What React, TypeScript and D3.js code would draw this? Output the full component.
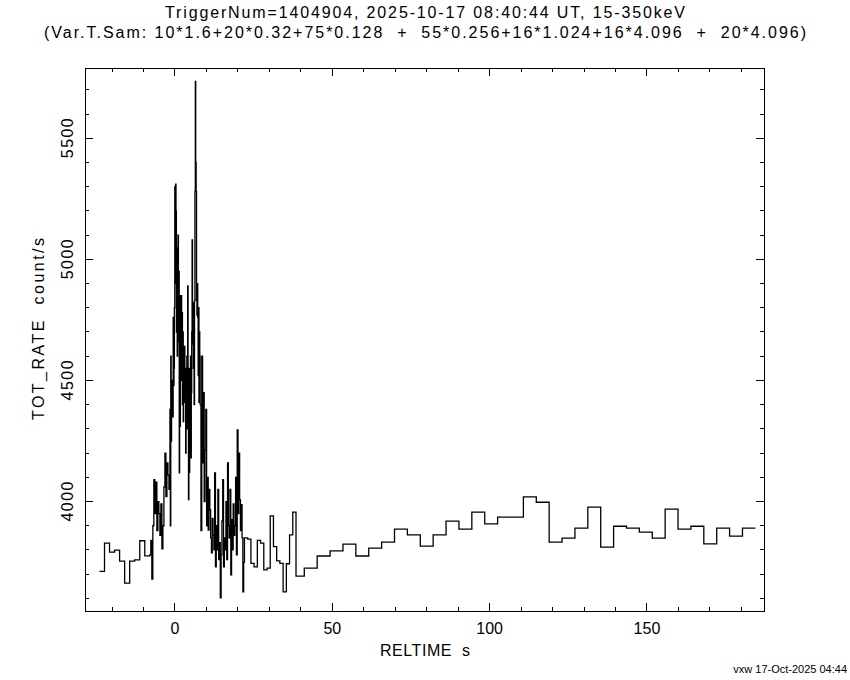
import React from "react";
import * as d3 from "d3";

// ---- time sampling (from the subtitle) ----
const T_START = -24;
const FINE_WIDTHS = [1.6, 0.32, 0.128, 0.256, 1.024];
const COARSE_START = 37.0;
const COARSE_DT = 4.096;

// ---- rates (count/s), one array per sampling section ----
const rate1p6 = [3712, 3828, 3791, 3799, 3754, 3663, 3754, 3759, 3838, 3776];

const rate0p32 = [
  3780, 3840, 3680, 3900, 4090, 3950, 4080, 3880, 4000, 3950,
  3860, 3990, 3805, 3900, 4060, 4200, 4020, 4160, 4110, 4050,
];

const rate0p128 = [
  4380, 3900, 4600, 4250, 4450,
  4420, 4500, 4350, 4760, 4480,
  4550, 4800, 5300, 4900, 5310,
  5200, 4700, 5050, 4600, 4900,
  5100, 4660, 4950, 4118, 4850,
  4310, 4700, 4500, 4850, 4600,
  4780, 4400, 4700, 4330, 4600,
  4500, 4640, 4410, 4550, 4200,
  4450, 4300, 4600, 4420, 4890,
  4300, 4008, 4550, 4120, 4400,
  4250, 4600, 4180, 4450, 4700,
  5080, 4650, 4820, 4550, 4700,
  4400, 4830, 5280, 5735, 5400,
  5280, 4830, 4770, 4900, 4760,
  4520, 4800, 4410, 4700, 4600,
];

const rate0p256 = [
  4400, 3880, 4600, 4160, 4450, 4000,
  4213, 4380, 3900, 4100, 3882, 4050,
  3966, 3850, 3788, 3930, 3860, 3800,
  4118, 3730, 3900, 3800, 4050, 3760,
  3830, 3602, 3780, 3920, 4090, 3730,
  3850, 3800, 4000, 3760, 4160, 3900,
  3850, 4050, 3697, 3925, 3800, 3990,
  3860, 3900, 4100, 3780, 4296, 3950,
  4200, 4008, 3880, 3987, 3850, 3627, 3750,
];

const rate1p024 = [
  3850, 3845, 3745, 3730, 3840, 3828, 3718, 3725,
  3941, 3814, 3755, 3745, 3627, 3743, 3862, 3956,
];

const rate4p096 = [
  3692, 3725, 3775, 3796, 3824, 3775, 3808, 3832, 3886, 3862,
  3816, 3862, 3919, 3886, 3956, 3908, 3936, 3936, 4019, 3997,
  3832, 3849, 3890, 3977, 3812, 3898, 3890, 3874, 3849, 3969,
  3886, 3898, 3825, 3890, 3857, 3890,
];

// ---- axes ----
const X_DOMAIN = [-28.6, 187.2];
const Y_DOMAIN = [3548, 5790];
const X_MAJOR = [0, 50, 100, 150];
const Y_MAJOR = [4000, 4500, 5000, 5500];

const TITLE1 = "TriggerNum=1404904, 2025-10-17 08:40:44 UT, 15-350keV";
const TITLE2 =
  "(Var.T.Sam: 10*1.6+20*0.32+75*0.128  +  55*0.256+16*1.024+16*4.096  +  20*4.096)";
const X_LABEL = "RELTIME  s";
const Y_LABEL = "TOT_RATE  count/s";
const FOOTER = "vxw 17-Oct-2025 04:44";

const FONT = "'Liberation Sans', Arial, sans-serif";

export default function App() {
  const L = 85, R = 764, T = 68, B = 611;
  const x = d3.scaleLinear().domain(X_DOMAIN).range([L, R]);
  const y = d3.scaleLinear().domain(Y_DOMAIN).range([B, T]);

  const pts: [number, number][] = [];
  let t = T_START;
  [rate1p6, rate0p32, rate0p128, rate0p256, rate1p024].forEach((vals, k) => {
    vals.forEach((v) => {
      pts.push([t, v]);
      t += FINE_WIDTHS[k];
    });
  });
  rate4p096.forEach((v, i) => {
    const s = COARSE_START + i * COARSE_DT;
    pts.push([Math.max(s, t), v]);
  });
  pts.push([
    COARSE_START + rate4p096.length * COARSE_DT,
    rate4p096[rate4p096.length - 1],
  ]);

  const line = d3
    .line<[number, number]>()
    .x((d) => x(d[0]))
    .y((d) => y(d[1]))
    .curve(d3.curveStepAfter);

  const xMinor = d3.range(-20, 190, 10).filter((v) => !X_MAJOR.includes(v));
  const yMinor = d3.range(3600, 5800, 100).filter((v) => !Y_MAJOR.includes(v));

  const ticks: JSX.Element[] = [];
  const addX = (v: number, len: number, key: string) => {
    const px = x(v);
    ticks.push(<line key={"b" + key} x1={px} x2={px} y1={B} y2={B - len} />);
    ticks.push(<line key={"t" + key} x1={px} x2={px} y1={T} y2={T + len} />);
  };
  const addY = (v: number, len: number, key: string) => {
    const py = y(v);
    ticks.push(<line key={"l" + key} x1={L} x2={L + len} y1={py} y2={py} />);
    ticks.push(<line key={"r" + key} x1={R} x2={R - len} y1={py} y2={py} />);
  };
  X_MAJOR.forEach((v) => addX(v, 8, "M" + v));
  xMinor.forEach((v) => addX(v, 4, "m" + v));
  Y_MAJOR.forEach((v) => addY(v, 8, "M" + v));
  yMinor.forEach((v) => addY(v, 4, "m" + v));

  return (
    <svg
      width={850}
      height={680}
      style={{ position: "absolute", left: 0, top: 0, background: "#fff" }}
      fontFamily={FONT}
    >
      <rect x={0} y={0} width={850} height={680} fill="#fff" />
      <g stroke="#000" strokeWidth={1} shapeRendering="crispEdges">
        {ticks}
        <rect x={L} y={T} width={R - L} height={B - T} fill="none" />
      </g>
      <path d={line(pts) || ""} fill="none" stroke="#000" strokeWidth={1.3} />

      <g fill="#000" fontSize={16}>
        <text x={425} y={18} textAnchor="middle" textLength={520} lengthAdjust="spacing">
          {TITLE1}
        </text>
        <text
          x={425}
          y={38}
          textAnchor="middle"
          textLength={762}
          lengthAdjust="spacing"
          xmlSpace="preserve"
          style={{ whiteSpace: "pre" }}
        >
          {TITLE2}
        </text>
        {X_MAJOR.map((v) => (
          <text key={"xl" + v} x={x(v)} y={634} textAnchor="middle">
            {v}
          </text>
        ))}
        {Y_MAJOR.map((v) => (
          <text
            key={"yl" + v}
            transform={`translate(73,${y(v)}) rotate(-90)`}
            textAnchor="middle"
            textLength={40}
            lengthAdjust="spacing"
          >
            {v}
          </text>
        ))}
        <text
          x={425}
          y={656}
          textAnchor="middle"
          textLength={90}
          lengthAdjust="spacing"
          xmlSpace="preserve"
          style={{ whiteSpace: "pre" }}
        >
          {X_LABEL}
        </text>
        <text
          transform={`translate(43.5,329) rotate(-90)`}
          textAnchor="middle"
          textLength={182}
          lengthAdjust="spacing"
          xmlSpace="preserve"
          style={{ whiteSpace: "pre" }}
        >
          {Y_LABEL}
        </text>
        <text x={847} y={673} textAnchor="end" fontSize={11}>
          {FOOTER}
        </text>
      </g>
    </svg>
  );
}
